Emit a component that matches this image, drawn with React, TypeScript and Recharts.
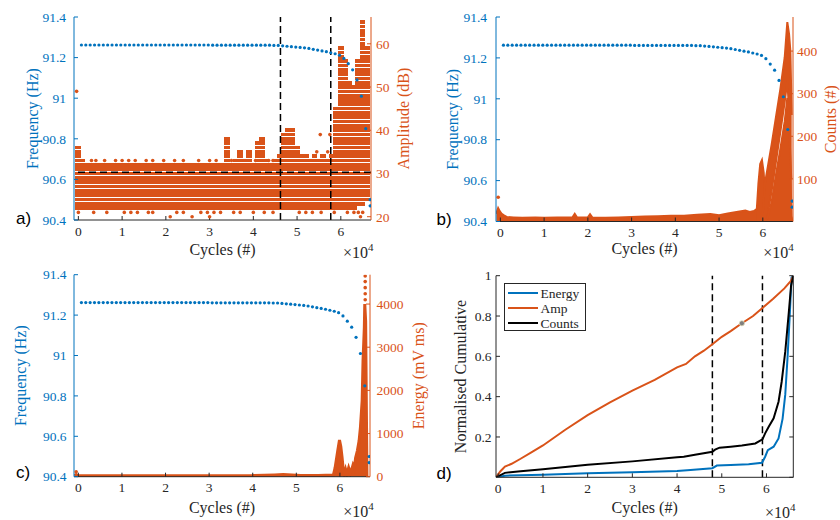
import React from 'react';
import { ComposedChart, XAxis, YAxis, Bar, Scatter, Area, Line, ReferenceLine, Legend } from 'recharts';

const BLUE = '#0072BD';
const ORANGE = '#D95319';
const AXIS = '#262626';
const SERIF = 'Liberation Serif';
const SANS = 'Liberation Sans';

// ---------- shared frequency series (panels a, b, c) ----------
const freqCycles = [700, 1700, 2700, 3700, 4700, 5700, 6700, 7700, 8700, 9700, 10700, 11700, 12700, 13700, 14700, 15700, 16700, 17700, 18700, 19700, 20700, 21700, 22700, 23700, 24700, 25700, 26700, 27700, 28700, 29700, 30700, 31700, 32700, 33700, 34700, 35700, 36700, 37700, 38700, 39700, 40700, 41700, 42700, 43700, 44700, 45700, 46700, 47700, 48700, 49700, 50700, 51700, 52700, 53700, 54700, 55700, 56700, 57700, 58700, 59700, 60700, 61700, 62700, 63700, 64700, 65700, 66700, 66700];
const freqHz = [91.262, 91.262, 91.262, 91.262, 91.262, 91.262, 91.262, 91.262, 91.262, 91.262, 91.262, 91.262, 91.262, 91.262, 91.262, 91.262, 91.262, 91.262, 91.262, 91.262, 91.262, 91.262, 91.262, 91.262, 91.262, 91.262, 91.262, 91.262, 91.262, 91.262, 91.261, 91.261, 91.261, 91.261, 91.261, 91.261, 91.261, 91.261, 91.261, 91.261, 91.261, 91.261, 91.261, 91.261, 91.26, 91.26, 91.258, 91.256, 91.254, 91.252, 91.25, 91.248, 91.245, 91.241, 91.237, 91.233, 91.229, 91.224, 91.219, 91.212, 91.196, 91.17, 91.14, 91.09, 91.01, 90.85, 90.5, 90.47];

// ---------- panel a: amplitude ----------
const ampBinCycles = [0, 1000, 2000, 3000, 4000, 5000, 6000, 7000, 8000, 9000, 10000, 11000, 12000, 13000, 14000, 15000, 16000, 17000, 18000, 19000, 20000, 21000, 22000, 23000, 24000, 25000, 26000, 27000, 28000, 29000, 30000, 31000, 32000, 33000, 34000, 35000, 36000, 37000, 38000, 39000, 40000, 41000, 42000, 43000, 44000, 45000, 46000, 47000, 48000, 49000, 50000, 51000, 52000, 53000, 54000, 55000, 56000, 57000, 58000, 59000, 60000, 61000, 62000, 63000, 64000, 65000, 66000];
const ampBinLo = [22, 22, 22, 22, 22, 22, 22, 22, 22, 22, 22, 22, 22, 22, 22, 22, 22, 22, 22, 22, 22, 22, 22, 22, 22, 22, 22, 22, 22, 22, 22, 22, 22, 22, 22, 22, 22, 22, 22, 22, 22, 22, 22, 22, 22, 22, 22, 22, 22, 22, 22, 22, 22, 22, 22, 22, 22, 22, 22, 22, 22, 22, 22, 22, 23, 23, 24];
const ampBinHi = [36, 33, 32, 32, 32, 32, 32, 32, 32, 32, 32, 32, 32, 32, 32, 32, 32, 32, 32, 32, 32, 32, 32, 32, 32, 32, 32, 32, 32, 32, 32, 32, 32, 32, 38, 32, 33, 35, 33, 35, 32, 37, 38, 33, 32, 33, 34, 39, 40, 40, 36, 34, 34, 33, 34, 33, 34, 33, 34, 45, 59, 56, 51, 50, 56, 65, 59];
const ampDotCycles = [-400, 3000, 4000, 6000, 8500, 10000, 11500, 13000, 15500, 17000, 19500, 22000, 24000, 27500, 30000, 31500, 35000, 40500, 43500, 44500, 54500, 57000, 55300, 57500, 0, 3500, 6500, 10500, 12000, 13500, 16000, 17000, 22500, 24000, 28000, 29500, 31000, 32500, 35500, 37000, 40000, 42500, 44500, 50500, 52000, 53500, 55500, 58500, 61500, 63000, 64000, 65000, 21000, 26000, 30000, 64500];
const ampDotDb = [49, 33, 33, 33, 33, 33, 33, 33, 33, 33, 33, 33, 33, 33, 33, 33, 33, 33, 33, 33, 35, 35, 39, 39, 21, 21, 21, 21, 21, 21, 21, 21, 21, 21, 21, 21, 21, 21, 21, 21, 21, 21, 21, 21, 21, 21, 21, 21, 21, 21, 21, 21, 20, 20, 20, 20];
const ampPhaseCycles = [46200, 57700];
const ampThresholdDb = 30.3;
const ampBinWidth = 1000;

// ---------- panel b: counts ----------
const countBaseCycles = [-900, -500, -200, 200, 800, 1500, 3000, 5000, 8000, 10000, 13000, 16500, 17000, 17500, 20000, 20500, 21000, 24000, 27000, 30000, 33000, 36000, 39000, 42000, 45000, 48000, 50000, 52000, 54000, 56000, 57000, 58000, 58800, 60000, 62000, 64000, 66000, 66500, 66700];
const countBaseHi = [18, 30, 24, 18, 14, 10, 9, 8, 9, 8, 9, 9, 17, 9, 9, 16, 9, 8, 9, 10, 11, 12, 13, 13, 15, 17, 14, 18, 22, 25, 22, 24, 30, 20, 18, 18, 16, 10, 0];
const countSpikeCycles = [58600, 59000, 59400, 59800, 60200, 60600, 61000];
const countSpikeHi = [25, 90, 135, 144, 115, 45, 15];
const countMainCycles = [60000, 60500, 61000, 62000, 63000, 64000, 65000, 65600, 66000, 66300, 66600];
const countMainLo = [0, 0, 10, 70, 140, 210, 280, 330, 260, 120, 0];
const countMainHi = [20, 90, 120, 180, 245, 310, 385, 468, 440, 400, 250];
const countLowCycles = [61000, 62000, 63000, 64000, 65000, 65600, 66000, 66500];
const countLowHi = [5, 45, 110, 170, 235, 290, 230, 100];
const countDotCycles = [-500];
const countDotVal = [57];

// ---------- panel c: energy ----------
const energyCycles = [-900, -500, -200, 500, 10000, 20000, 30000, 40000, 45000, 47000, 49000, 51000, 55000, 58500, 58900, 59500, 59900, 60200, 60500, 60800, 61000, 61300, 61600, 62000, 62400, 62800, 63000, 63300, 63600, 64000, 64400, 64700, 65100, 65300, 65600, 65700, 65900, 66100, 66200];
const energyVal = [20, 50, 30, 20, 20, 20, 22, 25, 40, 50, 40, 30, 30, 40, 210, 600, 850, 700, 440, 120, 50, 170, 60, 206, 80, 200, 270, 200, 440, 600, 830, 1137, 1756, 2684, 3457, 4000, 3600, 1200, 0];
const energyDotCycles = [-500, 65800, 65800, 65800, 65800, 65800];
const energyDotVal = [116, 4650, 4520, 4380, 4240, 4100];

// ---------- panel d: normalised cumulative ----------
const dAmpCycles = [-500, 500, 1500, 3000, 5000, 7500, 10000, 15000, 20000, 25000, 30000, 35000, 40000, 42000, 44000, 46000, 47900, 50000, 52000, 54500, 57000, 59100, 61500, 64000, 65500, 66000];
const dAmpVal = [0, 0.03, 0.053, 0.067, 0.092, 0.125, 0.158, 0.236, 0.308, 0.372, 0.43, 0.483, 0.545, 0.562, 0.6, 0.628, 0.66, 0.697, 0.725, 0.764, 0.8, 0.84, 0.886, 0.937, 0.975, 1.0];
const dCntCycles = [-500, 1500, 5000, 10000, 20000, 30000, 40000, 41500, 44000, 47900, 48500, 49500, 52000, 54500, 57500, 59100, 59700, 60500, 61600, 62700, 63400, 64200, 65000, 65500, 66000];
const dCntVal = [0, 0.022, 0.03, 0.04, 0.062, 0.079, 0.099, 0.102, 0.112, 0.127, 0.137, 0.147, 0.152, 0.158, 0.168, 0.188, 0.218, 0.251, 0.293, 0.375, 0.474, 0.623, 0.82, 0.95, 1.0];
const dEnCycles = [-500, 1500, 10000, 20000, 30000, 40000, 43000, 47900, 48900, 52000, 56000, 59000, 59700, 60300, 61600, 62700, 63600, 64200, 64700, 65200, 65600, 66000];
const dEnVal = [0, 0.008, 0.013, 0.02, 0.025, 0.031, 0.036, 0.045, 0.058, 0.061, 0.065, 0.072, 0.102, 0.135, 0.152, 0.193, 0.29, 0.41, 0.59, 0.8, 0.99, 1.0];
const dMarkCycles = [54500];
const dMarkVal = [0.764];
const dPhaseCycles = [47900, 59100];
const dSeriesNames = ['Energy', 'Amp', 'Counts'];
const dSeriesColors = [BLUE, ORANGE, '#000000'];

// ---------- ticks ----------
const xTicks = [0, 10000, 20000, 30000, 40000, 50000, 60000];
const freqTicks = [90.4, 90.6, 90.8, 91, 91.2, 91.4];
const ampTicks = [20, 30, 40, 50, 60];
const countTicks = [100, 200, 300, 400];
const energyTicks = [0, 1000, 2000, 3000, 4000];
const cumTicks = [0.2, 0.4, 0.6, 0.8, 1];
const cumTicksAll = [0, 0.2, 0.4, 0.6, 0.8, 1];

const zip = (xs: number[], ys: number[]) => xs.map((x, i) => ({ x, y: ys[i] }));
const freqData = zip(freqCycles, freqHz);
const ampBins = ampBinCycles.map((x, i) => ({ x, lo: ampBinLo[i], hi: ampBinHi[i] }));
const ampDots = zip(ampDotCycles, ampDotDb);
const countBase = zip(countBaseCycles, countBaseHi);
const countSpike = zip(countSpikeCycles, countSpikeHi);
const countMain = countMainCycles.map((x, i) => ({ x, lo: countMainLo[i], hi: countMainHi[i] }));
const countLow = zip(countLowCycles, countLowHi);
const countDots = zip(countDotCycles, countDotVal);
const energyData = zip(energyCycles, energyVal);
const energyDots = zip(energyDotCycles, energyDotVal);
const dAmp = zip(dAmpCycles, dAmpVal);
const dCnt = zip(dCntCycles, dCntVal);
const dEn = zip(dEnCycles, dEnVal);
const dMark = zip(dMarkCycles, dMarkVal);

const fmtX = (v: number) => String(v / 10000);
const blank = () => '';
const tickFont = (fill: string) => ({ fill, fontSize: 13.5, fontFamily: SERIF, style: { fontFamily: SERIF } });
const labelFont = (fill: string) => ({ fill, fontSize: 16, fontFamily: SERIF, style: { fontFamily: SERIF } });

const dotShape = (fill: string, r: number) => (p: any) => <circle cx={p.cx} cy={p.cy} r={r} fill={fill} />;

const XDOM: [number, number] = [-1000, 66900];
const PLOT_W = 297;
const binPx = (PLOT_W * ampBinWidth) / (XDOM[1] - XDOM[0]);
const ampBarSize = binPx - 0.3;

const StripedBar = (p: any) => {
  const { x, y, width, height, payload } = p;
  if (!payload || !(height > 0)) return <g />;
  const n = payload.hi - payload.lo;
  const step = n > 0 ? height / n : 0;
  const cx = x + width / 2;
  const w = binPx + 1.4;
  const rows = [];
  for (let i = 0; i <= n; i++) {
    rows.push(<rect key={i} x={cx - w / 2} y={y + i * step - 1.85} width={w} height={3.7} fill={ORANGE} shapeRendering="crispEdges" />);
  }
  return <g>{rows}</g>;
};

function PanelA() {
  return (
    <ComposedChart width={420} height={260} data={ampBins} margin={{ top: 17, right: 0, bottom: 0, left: 0 }} barCategoryGap={0} barGap={0}>
      <XAxis xAxisId="x" dataKey="x" type="number" domain={XDOM} allowDataOverflow ticks={xTicks} interval={0} tickFormatter={fmtX}
        height={40} tickSize={-4} tickMargin={10} stroke={AXIS} tick={tickFont(AXIS)}
        label={{ value: 'Cycles (#)', position: 'center', dy: 9, ...labelFont(AXIS) }} />
      <XAxis xAxisId="s" dataKey="x" type="number" orientation="top" domain={XDOM} allowDataOverflow hide height={0} />
      <XAxis xAxisId="top" dataKey="x" type="number" orientation="top" domain={XDOM} allowDataOverflow ticks={xTicks} interval={0}
        tickFormatter={blank} height={0} tickSize={-4} stroke={AXIS} />
      <YAxis yAxisId="f" type="number" domain={[90.4, 91.4]} allowDataOverflow ticks={freqTicks} interval={0} width={74}
        tickSize={-4} tickMargin={12} stroke={BLUE} tick={tickFont(BLUE)}
        label={{ value: 'Frequency (Hz)', angle: -90, position: 'center', dx: -5, ...labelFont(BLUE) }} />
      <YAxis yAxisId="amp" orientation="right" type="number" domain={[19.24, 66.2]} allowDataOverflow ticks={ampTicks} interval={0} width={49}
        tickSize={-4} tickMargin={9} stroke={ORANGE} tick={tickFont(ORANGE)}
        label={{ value: 'Amplitude (dB)', angle: -90, position: 'center', dx: 7.5, ...labelFont(ORANGE) }} />
      <Bar xAxisId="x" yAxisId="amp" dataKey={(d: any) => [d.lo, d.hi]} barSize={ampBarSize} shape={StripedBar} isAnimationActive={false} />
      <Scatter xAxisId="s" yAxisId="amp" data={ampDots} dataKey="y" shape={dotShape(ORANGE, 1.8)} isAnimationActive={false} />
      <Scatter xAxisId="s" yAxisId="f" data={freqData} dataKey="y" shape={dotShape(BLUE, 1.6)} isAnimationActive={false} />
      {ampPhaseCycles.map((c) => (
        <ReferenceLine key={c} xAxisId="x" yAxisId="amp" x={c} stroke="#000" strokeWidth={1.5} strokeDasharray="7 4" />
      ))}
      <ReferenceLine xAxisId="x" yAxisId="amp" y={ampThresholdDb} stroke="#000" strokeWidth={1.5} strokeDasharray="7 4" />
    </ComposedChart>
  );
}

function PanelB() {
  return (
    <ComposedChart width={420} height={260} margin={{ top: 17, right: 0, bottom: 0, left: 0 }}>
      <XAxis xAxisId="x" dataKey="x" type="number" domain={XDOM} allowDataOverflow ticks={xTicks} interval={0} tickFormatter={fmtX}
        height={38.5} tickSize={-4} tickMargin={10} stroke={AXIS} tick={tickFont(AXIS)}
        label={{ value: 'Cycles (#)', position: 'center', dy: 8, ...labelFont(AXIS) }} />
      <XAxis xAxisId="top" dataKey="x" type="number" orientation="top" domain={XDOM} allowDataOverflow ticks={xTicks} interval={0}
        tickFormatter={blank} height={0} tickSize={-4} stroke={AXIS} />
      <YAxis yAxisId="f" type="number" domain={[90.4, 91.4]} allowDataOverflow ticks={freqTicks} interval={0} width={76}
        tickSize={-4} tickMargin={13} stroke={BLUE} tick={tickFont(BLUE)}
        label={{ value: 'Frequency (Hz)', angle: -90, position: 'center', dx: -6, ...labelFont(BLUE) }} />
      <YAxis yAxisId="cnt" orientation="right" type="number" domain={[0, 480]} allowDataOverflow ticks={countTicks} interval={0} width={47}
        tickSize={-4} tickMargin={8} stroke={ORANGE} tick={tickFont(ORANGE)}
        label={{ value: 'Counts (#)', angle: -90, position: 'center', dx: 14, ...labelFont(ORANGE) }} />
      <Area xAxisId="x" yAxisId="cnt" data={countBase} dataKey="y" type="linear" stroke={ORANGE} strokeWidth={2.5} fill={ORANGE} fillOpacity={1} dot={false} activeDot={false} isAnimationActive={false} />
      <Area xAxisId="x" yAxisId="cnt" data={countSpike} dataKey="y" type="linear" stroke={ORANGE} strokeWidth={2} fill={ORANGE} fillOpacity={1} dot={false} activeDot={false} isAnimationActive={false} />
      <Area xAxisId="x" yAxisId="cnt" data={countMain} dataKey={(d: any) => [d.lo, d.hi]} type="linear" stroke={ORANGE} strokeWidth={2} fill={ORANGE} fillOpacity={1} dot={false} activeDot={false} isAnimationActive={false} />
      <Area xAxisId="x" yAxisId="cnt" data={countLow} dataKey="y" type="linear" stroke={ORANGE} strokeWidth={2} fill={ORANGE} fillOpacity={1} dot={false} activeDot={false} isAnimationActive={false} />
      <Scatter xAxisId="x" yAxisId="cnt" data={countDots} dataKey="y" shape={dotShape(ORANGE, 1.8)} isAnimationActive={false} />
      <Scatter xAxisId="x" yAxisId="f" data={freqData} dataKey="y" shape={dotShape(BLUE, 1.6)} isAnimationActive={false} />
    </ComposedChart>
  );
}

function PanelC() {
  return (
    <ComposedChart width={440} height={260} margin={{ top: 14.7, right: 0, bottom: 0, left: 0 }}>
      <XAxis xAxisId="x" dataKey="x" type="number" domain={XDOM} allowDataOverflow ticks={xTicks} interval={0} tickFormatter={fmtX}
        height={43.3} tickSize={-4} tickMargin={10} stroke={AXIS} tick={tickFont(AXIS)}
        label={{ value: 'Cycles (#)', position: 'center', dy: 8.5, ...labelFont(AXIS) }} />
      <XAxis xAxisId="top" dataKey="x" type="number" orientation="top" domain={XDOM} allowDataOverflow ticks={xTicks} interval={0}
        tickFormatter={blank} height={0} tickSize={-4} stroke={AXIS} />
      <YAxis yAxisId="f" type="number" domain={[90.4, 91.4]} allowDataOverflow ticks={freqTicks} interval={0} width={74}
        tickSize={-4} tickMargin={11.5} stroke={BLUE} tick={tickFont(BLUE)}
        label={{ value: 'Frequency (Hz)', angle: -90, position: 'center', dx: -17, ...labelFont(BLUE) }} />
      <YAxis yAxisId="en" orientation="right" type="number" domain={[0, 4680]} allowDataOverflow ticks={energyTicks} interval={0} width={70}
        tickSize={-4} tickMargin={10.5} stroke={ORANGE} tick={tickFont(ORANGE)}
        label={{ value: 'Energy (mV ms)', angle: -90, position: 'center', dx: 13, ...labelFont(ORANGE) }} />
      <Area xAxisId="x" yAxisId="en" data={energyData} dataKey="y" type="linear" stroke={ORANGE} strokeWidth={3} fill={ORANGE} fillOpacity={1} dot={false} activeDot={false} isAnimationActive={false} />
      <Scatter xAxisId="x" yAxisId="en" data={energyDots} dataKey="y" shape={dotShape(ORANGE, 1.8)} isAnimationActive={false} />
      <Scatter xAxisId="x" yAxisId="f" data={freqData} dataKey="y" shape={dotShape(BLUE, 1.6)} isAnimationActive={false} />
    </ComposedChart>
  );
}

const LegendBox = () => (
  <svg width={82} height={48} style={{ display: 'block' }}>
    <rect x={0.5} y={0.5} width={81} height={47} fill="#fff" stroke={AXIS} strokeWidth={1} />
    {dSeriesNames.map((n, i) => (
      <g key={n}>
        <line x1={4} x2={34} y1={10 + i * 15} y2={10 + i * 15} stroke={dSeriesColors[i]} strokeWidth={2} />
        <text x={36.5} y={14.5 + i * 15} fontSize={13.5} fontFamily={SERIF} style={{ fontFamily: SERIF }} fill={AXIS}>{n}</text>
      </g>
    ))}
  </svg>
);

function PanelD() {
  return (
    <ComposedChart width={420} height={260} margin={{ top: 15.7, right: 0, bottom: 0, left: 0 }}>
      <XAxis xAxisId="x" dataKey="x" type="number" domain={[-500, 66000]} allowDataOverflow ticks={xTicks} interval={0} tickFormatter={fmtX}
        height={42.7} tickSize={-4} tickMargin={10} stroke={AXIS} tick={tickFont(AXIS)}
        label={{ value: 'Cycles (#)', position: 'center', dy: 9, ...labelFont(AXIS) }} />
      <XAxis xAxisId="top" dataKey="x" type="number" orientation="top" domain={[-500, 66000]} allowDataOverflow ticks={xTicks} interval={0}
        tickFormatter={blank} height={0} tickSize={-4} stroke={AXIS} />
      <YAxis yAxisId="c" type="number" domain={[0, 1]} allowDataOverflow ticks={cumTicks} interval={0} width={76}
        tickSize={-4} tickMargin={8.5} stroke={AXIS} tick={tickFont(AXIS)}
        label={{ value: 'Normalised Cumulative', angle: -90, position: 'center', dx: 2, ...labelFont(AXIS) }} />
      <YAxis yAxisId="r" orientation="right" type="number" domain={[0, 1]} allowDataOverflow ticks={cumTicksAll} interval={0} width={46.7}
        tickSize={-4} tickFormatter={blank} stroke={AXIS} />
      {dPhaseCycles.map((c) => (
        <ReferenceLine key={c} xAxisId="x" yAxisId="c" x={c} stroke="#000" strokeWidth={1.5} strokeDasharray="7 4" />
      ))}
      <Line xAxisId="x" yAxisId="c" data={dEn} dataKey="y" name={dSeriesNames[0]} type="linear" stroke={dSeriesColors[0]} strokeWidth={2} dot={false} activeDot={false} isAnimationActive={false} />
      <Line xAxisId="x" yAxisId="c" data={dAmp} dataKey="y" name={dSeriesNames[1]} type="linear" stroke={dSeriesColors[1]} strokeWidth={2} dot={false} activeDot={false} isAnimationActive={false} />
      <Line xAxisId="x" yAxisId="c" data={dCnt} dataKey="y" name={dSeriesNames[2]} type="linear" stroke={dSeriesColors[2]} strokeWidth={2} dot={false} activeDot={false} isAnimationActive={false} />
      <Scatter xAxisId="x" yAxisId="c" data={dMark} dataKey="y" shape={(p: any) => <circle cx={p.cx} cy={p.cy} r={2.6} fill="#7f7f7f" stroke="#e4e2c0" strokeWidth={0.8} />} isAnimationActive={false} legendType="none" />
      <Legend layout="vertical" align="center" verticalAlign="middle" content={() => <LegendBox />}
        wrapperStyle={{ left: 84, top: 22.5, width: 82, height: 48 }} />
    </ComposedChart>
  );
}

const Overlay = () => (
  <svg width={840} height={520} style={{ position: 'absolute', left: 0, top: 0, pointerEvents: 'none' }}>
    <g fontFamily={SANS} style={{ fontFamily: SANS }} fontSize={17} fill="#000">
      <text x={16} y={224}>a)</text>
      <text x={436.5} y={225}>b)</text>
      <text x={16} y={478}>c)</text>
      <text x={436.5} y={479}>d)</text>
    </g>
    <g fontFamily={SERIF} style={{ fontFamily: SERIF }} fontSize={16} fill={AXIS}>
      <text x={343} y={258}>×10<tspan fontSize={11} dy={-7}>4</tspan></text>
      <text x={763.3} y={258}>×10<tspan fontSize={11} dy={-7}>4</tspan></text>
      <text x={343.3} y={517}>×10<tspan fontSize={11} dy={-7}>4</tspan></text>
      <text x={765} y={518}>×10<tspan fontSize={11} dy={-7}>4</tspan></text>
    </g>
  </svg>
);

export default function App() {
  return (
    <div style={{ position: 'absolute', left: 0, top: 0, width: 840, height: 520, background: '#fff', overflow: 'hidden', fontFamily: SERIF }}>
      <div style={{ position: 'absolute', left: 0, top: 260 }}><PanelC /></div>
      <div style={{ position: 'absolute', left: 0, top: 0 }}><PanelA /></div>
      <div style={{ position: 'absolute', left: 420, top: 0 }}><PanelB /></div>
      <div style={{ position: 'absolute', left: 420, top: 260 }}><PanelD /></div>
      <Overlay />
    </div>
  );
}
